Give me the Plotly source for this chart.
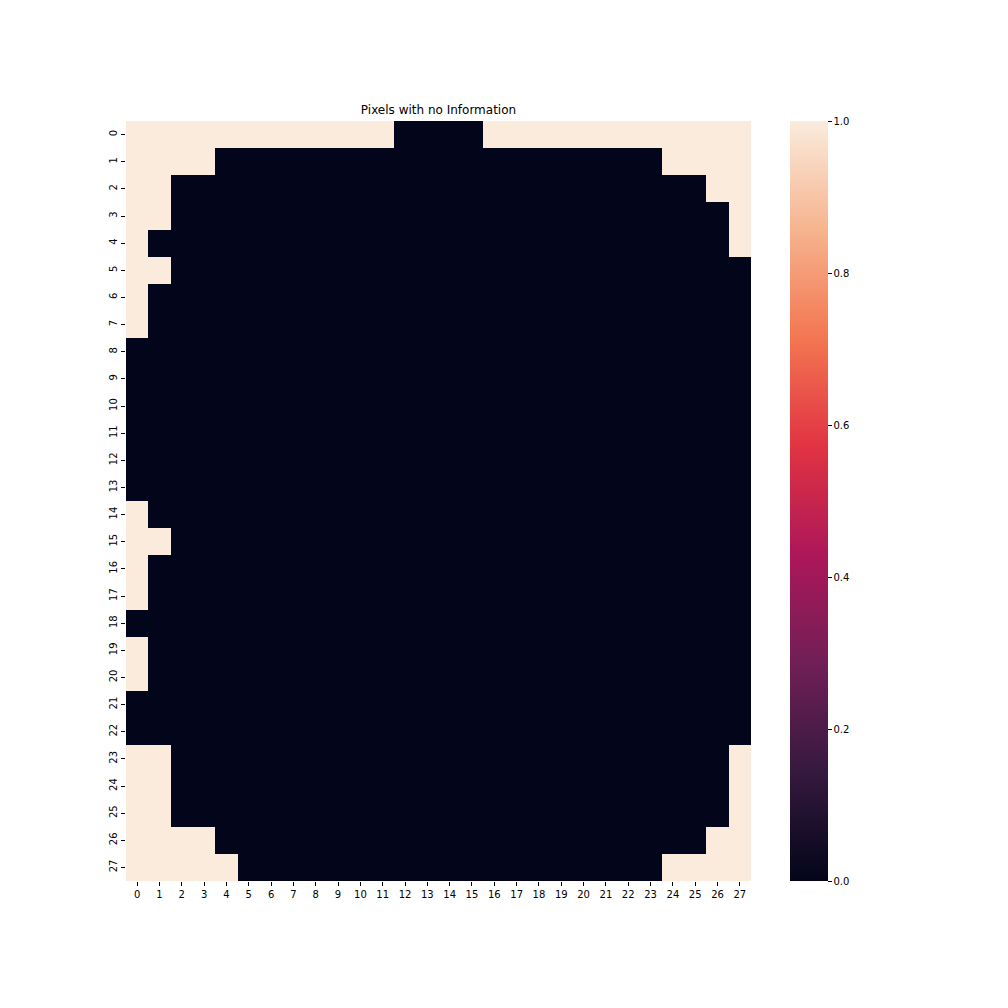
import plotly.graph_objects as go

rows = list(range(28))
cols = list(range(28))

# 1 = pixel with no information, 0 = otherwise
z = [
    [1]*12 + [0]*4 + [1]*12,                 # 0
    [1]*4 + [0]*20 + [1]*4,                  # 1
    [1]*2 + [0]*24 + [1]*2,                  # 2
    [1]*2 + [0]*25 + [1]*1,                  # 3
    [1]*1 + [0]*26 + [1]*1,                  # 4
    [1]*2 + [0]*26,                          # 5
    [1]*1 + [0]*27,                          # 6
    [1]*1 + [0]*27,                          # 7
    [0]*28,                                  # 8
    [0]*28,                                  # 9
    [0]*28,                                  # 10
    [0]*28,                                  # 11
    [0]*28,                                  # 12
    [0]*28,                                  # 13
    [1]*1 + [0]*27,                          # 14
    [1]*2 + [0]*26,                          # 15
    [1]*1 + [0]*27,                          # 16
    [1]*1 + [0]*27,                          # 17
    [0]*28,                                  # 18
    [1]*1 + [0]*27,                          # 19
    [1]*1 + [0]*27,                          # 20
    [0]*28,                                  # 21
    [0]*28,                                  # 22
    [1]*2 + [0]*25 + [1]*1,                  # 23
    [1]*2 + [0]*25 + [1]*1,                  # 24
    [1]*2 + [0]*25 + [1]*1,                  # 25
    [1]*4 + [0]*22 + [1]*2,                  # 26
    [1]*5 + [0]*19 + [1]*4,                  # 27
]

cbar_ticks = [0.0, 0.2, 0.4, 0.6, 0.8, 1.0]

rocket = [
    [0.0, "#03051a"],
    [1/7, "#35193e"],
    [2/7, "#701f57"],
    [3/7, "#ad1759"],
    [4/7, "#e13342"],
    [5/7, "#f37651"],
    [6/7, "#f6b48f"],
    [1.0, "#faebdd"],
]

font = "DejaVu Sans"

fig = go.Figure(go.Heatmap(
    z=z, x=cols, y=rows,
    colorscale=rocket, zmin=0, zmax=1,
    colorbar=dict(
        thickness=38, thicknessmode="pixels",
        len=760, lenmode="pixels",
        x=(790 - 126) / 625, xanchor="left", xref="paper",
        y=0.5, yanchor="middle",
        xpad=0, ypad=0,
        outlinewidth=0,
        tickvals=cbar_ticks, ticktext=[f"{v:.1f}" for v in cbar_ticks],
        ticks="outside", ticklen=4, tickcolor="black",
        tickfont=dict(family=font, size=10, color="black"),
    ),
    hoverongaps=False,
))

fig.update_layout(
    width=1008, height=1008,
    margin=dict(l=126, r=257, t=121, b=127),
    paper_bgcolor="white", plot_bgcolor="white",
    title=dict(text="Pixels with no Information", x=(126 + 751) / 2 / 1008, xanchor="center",
               y=1 - 110 / 1008, yanchor="middle",
               font=dict(family=font, size=12, color="black")),
    font=dict(family=font, size=10, color="black"),
)
fig.update_xaxes(
    tickmode="array", tickvals=cols, ticktext=[str(c) for c in cols],
    tickangle=0, ticks="outside", ticklen=4, tickcolor="black",
    showgrid=False, zeroline=False, showline=False,
    range=[-0.5, 27.5], tickfont=dict(family=font, size=10, color="black"),
)
fig.update_yaxes(
    tickmode="array", tickvals=rows, ticktext=[str(r) for r in rows],
    tickangle=-90, ticks="outside", ticklen=4, tickcolor="black",
    showgrid=False, zeroline=False, showline=False,
    range=[27.5, -0.5], tickfont=dict(family=font, size=10, color="black"),
)

fig.write_html("out.html")
